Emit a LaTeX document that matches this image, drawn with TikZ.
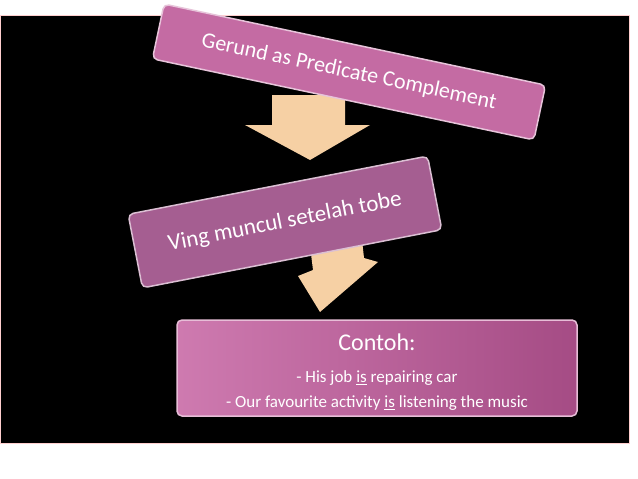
\documentclass[tikz,border=0pt]{standalone}
\usepackage{fontspec}
\setmainfont{Carlito}
\definecolor{pinkA}{HTML}{C46BA3}
\definecolor{mauve}{HTML}{A55E91}
\definecolor{pinkC}{HTML}{C2599C}
\definecolor{peach}{HTML}{F6D0A4}
\tikzset{
 box/.style={draw=#1!40!white, line width=1.5pt, rounded corners=5pt, text=white, align=center},
 arr/.style={fill=peach}
}
\begin{document}
\begin{tikzpicture}[x=1pt,y=-1pt]
\useasboundingbox (0,0) rectangle (638,479);
\fill[white] (0,0) rectangle (638,479);
\draw[fill=black, draw=pink!70!red!40, line width=0.6pt] (0,15) rectangle (629,443);
\coordinate (a1) at (310,160);
\coordinate (a2) at (320,312);
\fill[arr] (272,95) -- (345,95) -- (345,125) -- (370,125) -- (a1) -- (245,125) -- (272,125) -- cycle;
\fill[arr] (308,230) -- (360,222) -- (364,258) -- (378,262) -- (a2) -- (298,276) -- (313,270) -- cycle;
\node[box=pinkA, fill=pinkA, minimum width=390pt, minimum height=56pt, rotate=-12, font=\fontsize{22}{24}\selectfont] (b1) at (349,72) {Gerund as Predicate Complement};
\node[box=mauve, fill=mauve, minimum width=305pt, minimum height=75pt, rotate=11, font=\fontsize{23}{25}\selectfont] (b2) at (285,222) {Ving muncul setelah tobe};
\node[box=pinkC, left color=pinkC!80!white, right color=pinkC!85!black, minimum width=400pt, minimum height=96pt] (b3) at (377,368) {};
\node[text=white, font=\fontsize{24}{26}\selectfont] (t1) at (377,342) {Contoh:};
\node[text=white, font=\fontsize{17}{19}\selectfont] (t2) at (377,378) {- His job \underline{is} repairing car};
\node[text=white, font=\fontsize{17}{19}\selectfont] (t3) at (377,403) {- Our favourite activity \underline{is} listening the music};
\end{tikzpicture}
\end{document}
